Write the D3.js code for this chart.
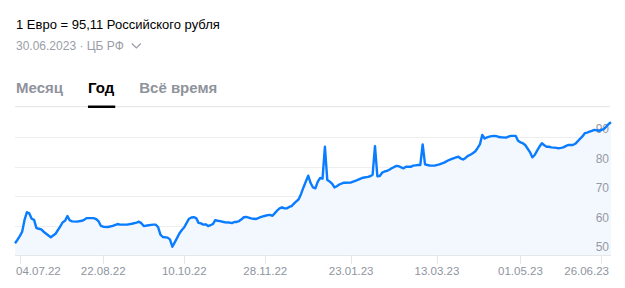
<!DOCTYPE html>
<html>
<head>
<meta charset="utf-8">
<script src="https://cdn.jsdelivr.net/npm/d3@7"></script>
<style>
	body { margin: 0; background: #fff; }
	text { font-family: Arial, "Liberation Sans", sans-serif; }
</style>
</head>
<body>
<div class="chart"></div>
<script>
// EUR / RUB rate for the last year, CB RF, by trading day

var w = 625,
	h = 288;

// trading day number since 30.06.2022
var tradingDay = [0, 1, 2, 3, 4, 5, 6, 7, 8, 9, 10, 11, 12, 15, 17, 19, 20, 21, 22, 23, 24, 26, 28, 29, 30,
	33, 34, 35, 36, 37, 39, 41, 43, 44, 47, 49, 51, 52, 53, 54, 56, 58, 59, 60, 61, 62, 64, 65, 66, 67,
	68, 69, 70, 71, 72, 73, 74, 75, 76, 77, 78, 79, 80, 81, 82, 83, 84, 85, 86, 88, 90, 91, 92, 93, 94,
	95, 96, 97, 98, 99, 100, 101, 102, 103, 104, 105, 106, 107, 108, 109, 110, 111, 112, 113, 114, 115,
	116, 117, 118, 119, 120, 121, 122, 123, 124, 125, 126, 127, 128, 129, 130, 131, 132, 133, 134, 135,
	136, 138, 141, 143, 146, 148, 149, 150, 151, 152, 153, 154, 155, 156, 157, 158, 160, 161, 162, 163,
	164, 166, 167, 168, 169, 170, 171, 172, 173, 174, 176, 178, 180, 182, 183, 185, 186, 187, 188, 189,
	190, 191, 192, 193, 194, 195, 196, 197, 198, 199, 200, 201, 202, 203, 204, 206, 207, 208, 209, 210,
	211, 212, 213, 214, 215, 216, 217, 218, 219, 220, 221, 222, 223, 224, 225, 226, 227, 228, 229, 230,
	231, 232, 233, 234, 235, 236, 237, 238, 239, 240, 241, 242, 243, 244, 245, 246, 247, 248, 249, 250];

// rubles for 1 euro
var eurRub = [54.1, 55.2, 56.5, 58.0, 62.0, 64.6, 64.2, 62.4, 62.0, 59.2, 59.0, 58.8, 58.0, 56.1, 57.3, 59.8, 61.2, 61.7, 63.3, 61.8, 61.5, 61.4, 61.7, 62.0, 62.6,
	62.6, 62.3, 61.6, 60.0, 59.7, 59.6, 60.0, 60.6, 60.4, 60.4, 60.7, 61.1, 61.4, 60.9, 59.9, 60.2, 60.4, 60.4, 59.6, 57.0, 56.2, 56.0, 55.4, 52.9, 54.4,
	55.9, 57.5, 58.6, 59.5, 61.0, 62.4, 62.8, 62.9, 62.6, 61.0, 60.8, 60.4, 60.5, 59.9, 60.2, 60.6, 61.9, 61.7, 61.6, 61.2, 61.1, 60.9, 61.3, 61.3, 61.6,
	62.2, 62.9, 63.0, 62.8, 62.5, 62.4, 62.3, 62.6, 62.9, 63.2, 63.4, 63.6, 63.7, 63.4, 64.3, 65.2, 65.9, 66.3, 65.9, 65.9, 66.4,
	66.7, 67.5, 68.3, 69.0, 70.8, 73.0, 75.0, 77.0, 74.5, 73.0, 72.7, 75.0, 76.2, 76.0, 86.8, 75.5, 75.0, 74.3, 73.0, 73.4,
	74.0, 74.6, 74.7, 75.3, 76.3, 76.6, 76.8, 77.3, 87.0, 76.8, 76.9, 78.0, 78.4, 78.6, 79.0, 79.5, 80.3, 80.2, 79.8, 79.5,
	80.0, 80.0, 80.4, 80.5, 80.6, 80.6, 87.6, 80.8, 80.6, 80.4, 80.4, 80.8, 81.4, 82.3, 82.6, 83.2, 83.4, 82.8, 82.5, 83.0,
	83.7, 84.1, 84.6, 85.2, 86.3, 87.6, 90.8, 89.6, 90.0, 90.2, 90.4, 90.5, 90.4, 90.1, 90.0, 89.9, 90.2, 90.5, 90.5, 90.5,
	88.8, 88.3, 88.0, 87.4, 86.2, 85.0, 83.2, 84.0, 85.5, 86.8, 88.0, 87.3, 86.8, 86.8, 86.6, 86.5, 86.4, 86.3, 86.4, 86.6,
	87.0, 87.4, 87.4, 87.4, 87.8, 88.6, 89.5, 90.3, 91.4, 91.6, 91.9, 92.2, 92.5, 92.4, 92.2, 92.5, 92.8, 93.6, 94.5, 95.11];

var xTickDays = [2, 37, 71, 105, 141, 177, 212, 246],
	xTickLabels = ['04.07.22', '22.08.22', '10.10.22', '28.11.22', '23.01.23', '13.03.23', '01.05.23', '26.06.23'];

var yTicks = [50, 60, 70, 80, 90];

var tabs = ['Месяц', 'Год', 'Всё время'],
	activeTab = 'Год';

var data = tradingDay.map(function(d, i) {
	return { day: d, rate: eurRub[i] };
});

// plot box
var left = 15,
	right = 611,
	bottom = 255.3,
	top90 = 137.3;

var x = d3.scaleLinear()
	.domain([0, 250])
	.range([left, right]);

var y = d3.scaleLinear()
	.domain([50, 90])
	.range([bottom, top90]);

var svg = d3.select('.chart').append('svg')
	.attr('width', w)
	.attr('height', h)
	.style('display', 'block');

// header
svg.append('text')
	.attr('x', 16)
	.attr('y', 29)
	.style('font-size', '13px')
	.attr('fill', '#000')
	.text('1 Евро = ' + d3.format('.2f')(eurRub[eurRub.length - 1]).replace('.', ',') + ' Российского рубля');

var sub = svg.append('text')
	.attr('x', 16)
	.attr('y', 50)
	.style('font-size', '12px')
	.attr('fill', '#9a9ea7')
	.text('30.06.2023 · ЦБ РФ');

var subEnd = 16 + sub.node().getComputedTextLength() + 8;
svg.append('path')
	.attr('d', 'M' + subEnd + ',43.5 l4.5,4.5 l4.5,-4.5')
	.attr('fill', 'none')
	.attr('stroke', '#9a9ea7')
	.attr('stroke-width', 1.2);

// tabs
svg.append('line')
	.attr('x1', 15)
	.attr('x2', 610)
	.attr('y1', 106.7)
	.attr('y2', 106.7)
	.attr('stroke', '#e4e4e4')
	.attr('stroke-width', 1);

var tabX = 16;
tabs.forEach(function(t) {
	var txt = svg.append('text')
		.attr('x', tabX)
		.attr('y', 92.5)
		.style('font-size', '15px')
		.style('font-weight', 'bold')
		.attr('fill', t == activeTab ? '#000' : '#8f939c')
		.text(t);
	var tw = txt.node().getComputedTextLength();
	if (t == activeTab)
		svg.append('rect')
			.attr('x', tabX)
			.attr('y', 105.5)
			.attr('width', tw + 1)
			.attr('height', 2.5)
			.attr('fill', '#000');
	tabX += tw + 25;
});

// grid
svg.selectAll('.grid')
	.data(yTicks)
	.enter().append('line')
	.attr('class', 'grid')
	.attr('x1', left)
	.attr('x2', right)
	.attr('y1', function(d) { return Math.round(y(d)) + 0.5; })
	.attr('y2', function(d) { return Math.round(y(d)) + 0.5; })
	.attr('stroke', function(d) { return d == 50 ? '#e2e2e2' : '#eeeeee'; });

svg.selectAll('.xtick')
	.data(xTickDays)
	.enter().append('line')
	.attr('class', 'xtick')
	.attr('x1', function(d) { return Math.round(x(d)) + 0.5; })
	.attr('x2', function(d) { return Math.round(x(d)) + 0.5; })
	.attr('y1', Math.round(y(50)))
	.attr('y2', Math.round(y(50)) + 9)
	.attr('stroke', '#e6e6e6');

// area + line
var area = d3.area()
	.x(function(d) { return x(d.day); })
	.y0(y(50))
	.y1(function(d) { return y(d.rate); });

var line = d3.line()
	.x(function(d) { return x(d.day); })
	.y(function(d) { return y(d.rate); });

svg.append('path')
	.datum(data)
	.attr('d', area)
	.attr('fill', '#f3f8fe');

svg.selectAll('.ylabel')
	.data(yTicks)
	.enter().append('text')
	.attr('class', 'ylabel')
	.attr('x', 609)
	.attr('y', function(d) { return y(d) - 4; })
	.attr('text-anchor', 'end')
	.style('font-size', '12px')
	.attr('fill', '#959aa4')
	.text(function(d) { return d; });

svg.append('path')
	.datum(data)
	.attr('d', line)
	.attr('fill', 'none')
	.attr('stroke', '#0a7cff')
	.attr('stroke-width', 2.4)
	.attr('stroke-linejoin', 'round');

// x labels, kept inside the plot
svg.selectAll('.xlabel')
	.data(xTickDays)
	.enter().append('text')
	.attr('class', 'xlabel')
	.attr('y', 275)
	.style('font-size', '11.5px')
	.attr('fill', '#8f94a0')
	.text(function(d, i) { return xTickLabels[i]; })
	.attr('x', function(d) {
		var tw = this.getComputedTextLength();
		var lx = x(d) - tw / 2;
		return Math.max(16, Math.min(609 - tw, lx));
	});
</script>
</body>
</html>
